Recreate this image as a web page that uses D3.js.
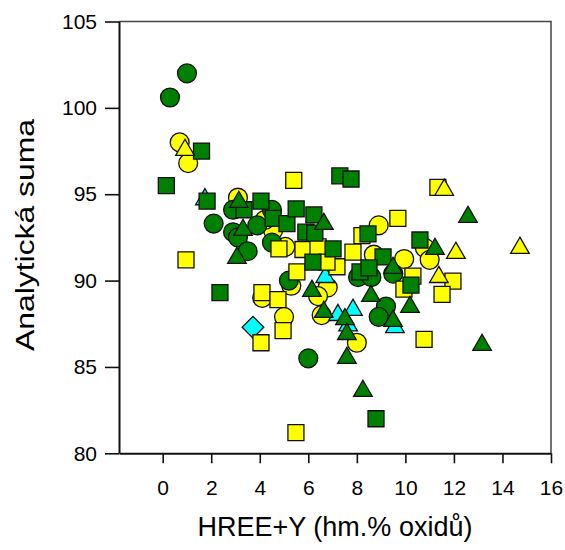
<!DOCTYPE html>
<html>
<head>
<meta charset="utf-8">
<script src="https://cdn.jsdelivr.net/npm/d3@7"></script>
<style>
  html, body { margin: 0; padding: 0; background: #fff; }
  svg { display: block; font-family: "Liberation Sans", Arial, sans-serif; }
</style>
</head>
<body>
<svg id="chart" width="565" height="550"></svg>
<script>
// Tick values
const xTicks = [0, 2, 4, 6, 8, 10, 12, 14, 16];
const yTicks = [80, 85, 90, 95, 100, 105];

// Data series: [HREE+Y, analytical total]
const greenCircles = [
  [1.0, 102.0], [0.3, 100.6], [2.1, 93.3], [2.9, 92.8], [3.1, 92.5], [3.5, 91.7],
  [3.9, 93.2], [4.5, 92.2], [4.5, 94.1], [2.9, 94.1], [5.2, 90.0], [6.0, 85.5],
  [8.05, 90.2], [8.6, 90.2], [9.5, 90.4], [9.2, 88.5], [8.9, 87.9]
];
const yellowCircles = [
  [0.7, 98.0], [1.05, 96.8], [3.1, 94.8], [4.1, 89.0], [5.3, 89.7], [5.0, 87.9],
  [6.8, 89.6], [6.4, 89.1], [6.55, 88.0], [8.9, 93.2], [8.7, 91.5], [9.95, 91.25],
  [10.8, 91.9], [11.0, 91.2], [8.0, 86.4], [4.55, 92.9], [5.05, 91.95], [4.2, 93.5]
];
const cyanDiamonds = [
  [3.72, 87.3]
];
const cyanTriangles = [
  [1.74, 94.7], [7.84, 88.3], [7.22, 88.0], [7.64, 87.4], [9.57, 87.3], [6.7, 90.2]
];
const yellowSquares = [
  [5.4, 95.8], [11.34, 95.4], [9.69, 93.6], [8.21, 92.6], [0.96, 91.2], [4.09, 89.3],
  [4.75, 88.9], [4.96, 87.1], [4.05, 86.4], [5.49, 81.2], [5.53, 90.5], [5.78, 91.8],
  [6.4, 91.95], [7.18, 90.8], [6.77, 91.07], [4.79, 91.83], [7.84, 91.65], [10.31, 90.26],
  [9.94, 89.5], [11.96, 89.97], [11.51, 89.2], [10.77, 86.6]
];
const greenSquares = [
  [1.6, 97.5], [0.15, 95.5], [7.3, 96.06], [7.76, 95.88], [1.83, 94.6], [3.35, 94.1],
  [4.05, 94.6], [4.55, 93.6], [5.12, 93.3], [5.5, 94.15], [6.23, 93.8], [5.9, 92.8],
  [6.27, 92.75], [7.02, 91.83], [6.19, 91.07], [2.36, 89.3], [8.46, 92.7], [10.6, 92.35],
  [9.08, 91.37], [8.13, 90.5], [8.5, 90.73], [10.23, 89.74], [8.79, 82.0]
];
const greenTriangles = [
  [3.31, 92.93], [3.06, 91.31], [3.14, 94.55], [6.64, 93.27], [6.15, 89.4], [6.64, 88.18],
  [8.58, 89.11], [10.19, 88.47], [9.49, 87.66], [7.51, 87.76], [7.59, 86.9], [7.59, 85.52],
  [8.25, 83.61], [13.16, 86.27], [12.58, 93.68], [11.22, 91.83], [9.49, 90.73]
];
const yellowTriangles = [
  [0.92, 97.56], [12.08, 91.6], [14.72, 91.89], [11.38, 90.2], [11.6, 95.25]
];

const GREEN = "#008000", YELLOW = "#ffff00", CYAN = "#00ffff";

const svg = d3.select("#chart");
const plot = { left: 119, right: 551, top: 21.5, bottom: 453.3 };

const x = d3.scaleLinear().domain([-1.8, 16]).range([plot.left, plot.right]);
const y = d3.scaleLinear().domain([80, 105]).range([plot.bottom, plot.top]);

// Frame: top and right edges
svg.append("path")
  .attr("d", `M${plot.left},${plot.top}H${plot.right}V${plot.bottom}`)
  .attr("fill", "none").attr("stroke", "#444").attr("stroke-width", 1.5);

// Axes
const xAxis = svg.append("g")
  .attr("transform", `translate(0,${plot.bottom})`)
  .call(d3.axisBottom(x).tickValues(xTicks).tickSize(10).tickSizeOuter(0).tickPadding(17));
const yAxis = svg.append("g")
  .attr("transform", `translate(${plot.left},0)`)
  .call(d3.axisLeft(y).tickValues(yTicks).tickSize(14).tickSizeOuter(0).tickPadding(8));

[xAxis, yAxis].forEach(g => {
  g.select(".domain").attr("stroke", "#111").attr("stroke-width", 2);
  g.selectAll(".tick line").attr("stroke", "#111").attr("stroke-width", 1.6);
  g.selectAll(".tick text").attr("fill", "#000")
    .style("font-family", "'Liberation Sans', Arial, sans-serif").style("font-size", "21px");
});

// Axis titles
svg.append("text")
  .attr("x", 335).attr("y", 536)
  .attr("text-anchor", "middle")
  .style("font-size", "27px").attr("fill", "#000")
  .text("HREE+Y (hm.% oxidů)");
svg.append("text")
  .attr("transform", "translate(34,235) rotate(-90)")
  .attr("text-anchor", "middle")
  .attr("textLength", 232).attr("lengthAdjust", "spacingAndGlyphs")
  .style("font-size", "26px").attr("fill", "#000")
  .text("Analytická suma");

// Markers
const layer = svg.append("g");
function draw(data, symbolType, size, fill, rotate) {
  const sym = d3.symbol().type(symbolType).size(size);
  layer.append("g").selectAll("path").data(data).join("path")
    .attr("transform", d => `translate(${x(d[0])},${y(d[1])})${rotate ? " rotate(45)" : ""}`)
    .attr("d", sym)
    .attr("fill", fill)
    .attr("stroke", "#111")
    .attr("stroke-width", 1.3);
}

draw(yellowCircles, d3.symbolCircle, 280, YELLOW);
draw(greenCircles, d3.symbolCircle, 280, GREEN);
draw(cyanDiamonds, d3.symbolSquare, 235, CYAN, true);
draw(cyanTriangles, d3.symbolTriangle, 150, CYAN);
draw(yellowSquares, d3.symbolSquare, 256, YELLOW);
draw(greenSquares, d3.symbolSquare, 256, GREEN);
draw(greenTriangles, d3.symbolTriangle, 150, GREEN);
draw(yellowTriangles, d3.symbolTriangle, 150, YELLOW);
</script>
</body>
</html>
